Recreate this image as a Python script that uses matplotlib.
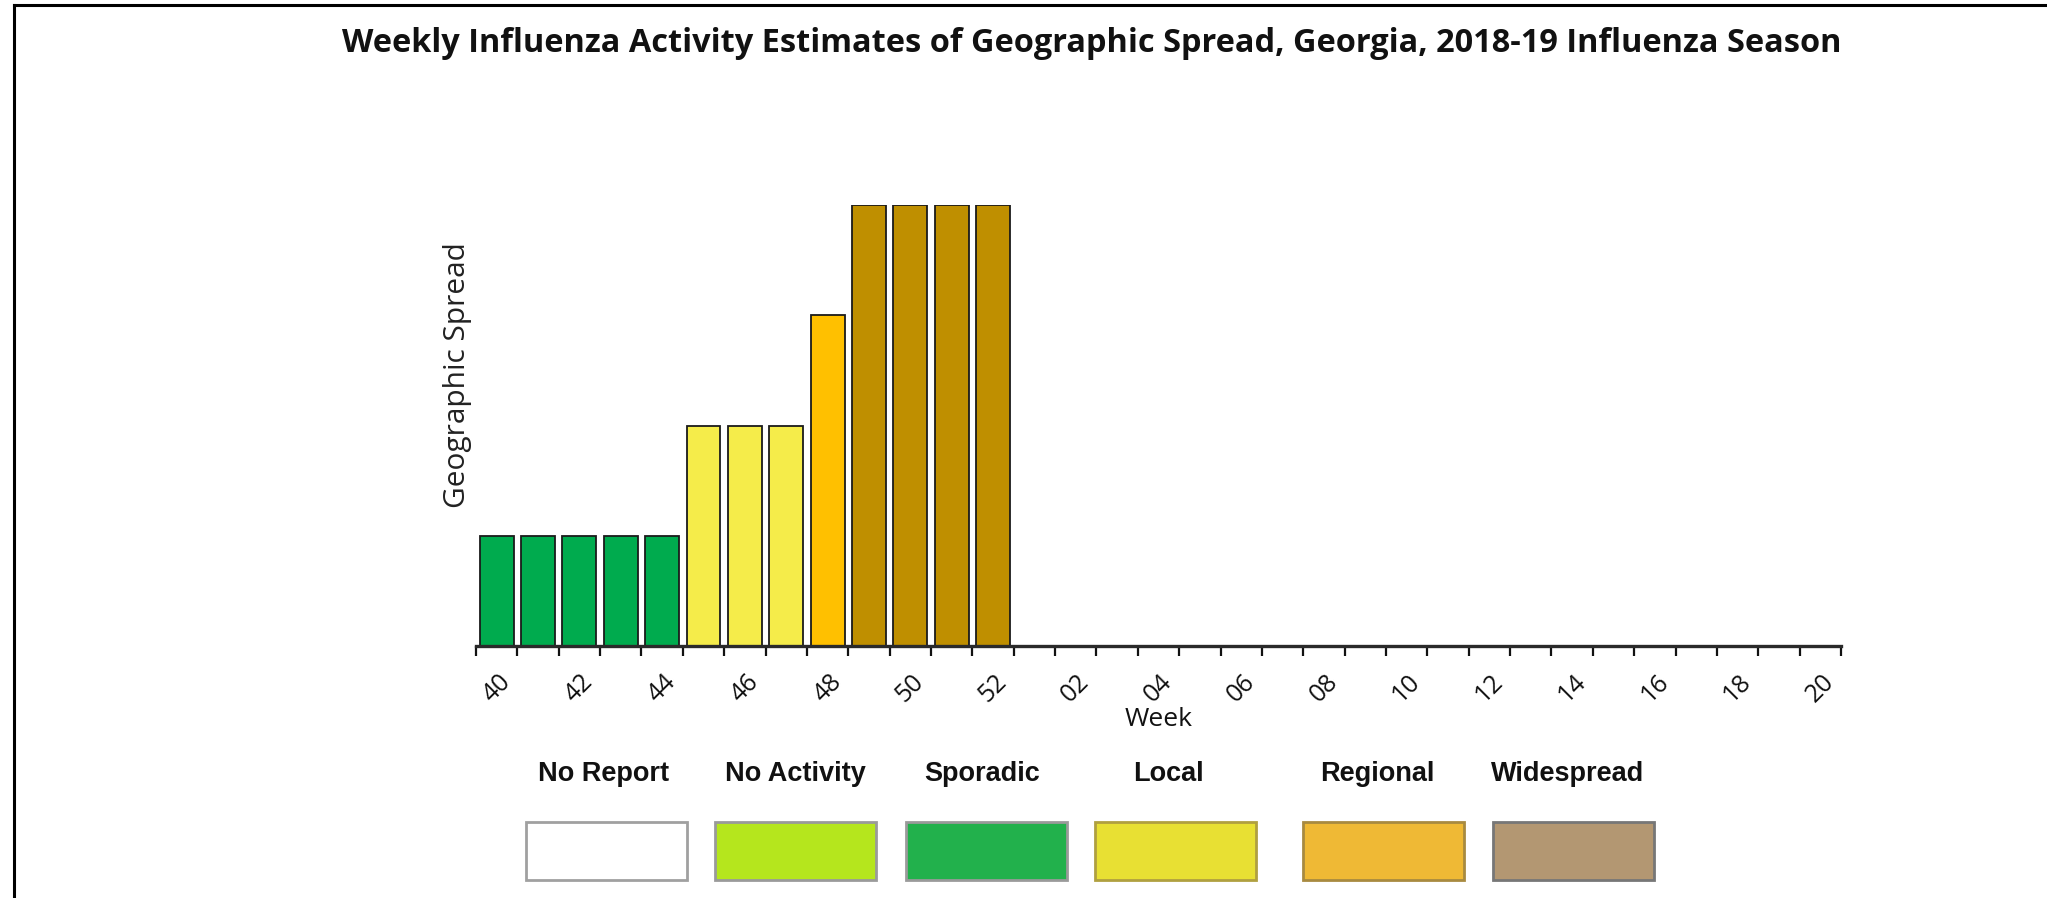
import matplotlib
matplotlib.use("Agg")
import matplotlib.pyplot as plt
from matplotlib.patches import Rectangle
from matplotlib.lines import Line2D

# ---------------- data ----------------
weeks = ["40", "41", "42", "43", "44", "45", "46", "47", "48", "49", "50", "51", "52",
         "01", "02", "03", "04", "05", "06", "07", "08", "09", "10", "11", "12",
         "13", "14", "15", "16", "17", "18", "19", "20"]
# activity level: 1 = Sporadic, 2 = Local, 3 = Regional, 4 = Widespread, 0 = no data yet
levels = [1, 1, 1, 1, 1, 2, 2, 2, 3, 4, 4, 4, 4,
          0, 0, 0, 0, 0, 0, 0, 0, 0, 0, 0, 0, 0, 0, 0, 0, 0, 0, 0, 0]
level_colors = {1: "#00AB4E", 2: "#F5EC4A", 3: "#FFC000", 4: "#BF8F00"}

legend_labels = ["No Report", "No Activity", "Sporadic", "Local", "Regional", "Widespread"]
legend_colors = ["#FFFFFF", "#B5E61D", "#22B14C", "#E8E033", "#EFB935", "#B39772"]
legend_edges = ["#A0A0A0", "#9A9A9A", "#9A9A9A", "#B0A040", "#A88A40", "#777777"]

title = "Weekly Influenza Activity Estimates of Geographic Spread, Georgia, 2018-19 Influenza Season"

# ---------------- figure ----------------
W, H = 2047, 898
fig = plt.figure(figsize=(W / 100, H / 100), dpi=100)
fig.patch.set_facecolor("white")

def fx(px):
    return px / W

def fy(py):
    return 1 - py / H

# axes: left 476, right 1841, baseline 646, top 205 (px)
ax = fig.add_axes([fx(476), fy(646), fx(1841) - fx(476), (646 - 205) / H])

x = list(range(len(weeks)))
bar_x = [i for i, v in zip(x, levels) if v > 0]
bar_h = [v for v in levels if v > 0]
bar_c = [level_colors[v] for v in levels if v > 0]
ax.bar(bar_x, bar_h, width=0.82, color=bar_c, edgecolor="#1a1a1a", linewidth=1.3, zorder=2)

ax.set_xlim(-0.5, len(weeks) - 0.5)
ax.set_ylim(0, 4)

for s in ["top", "right", "left"]:
    ax.spines[s].set_visible(False)
ax.spines["bottom"].set_linewidth(2.4)
ax.spines["bottom"].set_color("#2a2a2a")
ax.spines["bottom"].set_zorder(3)

ax.set_yticks([])
# major ticks at week boundaries
ax.set_xticks([i - 0.5 for i in range(len(weeks) + 1)])
ax.set_xticklabels([])
ax.tick_params(axis="x", which="major", length=7.5, width=1.6, color="#111111", direction="out")
# labels for every second week, centred under the bar
lab_pos = x[::2]
lab_txt = weeks[::2]
ax.set_xticks(lab_pos, minor=True)
ax.set_xticklabels(lab_txt, minor=True, rotation=45, ha="center",
                   fontsize=18, family="Open Sans", color="#111111")
ax.tick_params(axis="x", which="minor", length=0, pad=17)

ax.set_xlabel("Week", fontsize=19, family="Open Sans", color="#111111")
ax.xaxis.set_label_coords(0.5, (646 - 719) / 441)
ax.xaxis.label.set_va("center")

ax.set_ylabel("Geographic Spread", fontsize=21.5, family="Open Sans", color="#222222")
ax.yaxis.set_label_coords((457 - 476) / 1365, (646 - 375) / 441)
ax.yaxis.label.set_va("center")

# title
fig.text(fx(1092), fy(43), title, ha="center", va="center",
         fontsize=23.4, fontweight="bold", family="Open Sans", color="#111111")

# legend (labels above coloured boxes)
box_left = [526, 715, 906, 1095, 1303, 1493]
box_w = 161
box_top, box_bot = 822, 880
label_cx = [604, 795, 982, 1168, 1377, 1568]
for lbl, col, ec, bl, cx in zip(legend_labels, legend_colors, legend_edges, box_left, label_cx):
    fig.patches.append(Rectangle((fx(bl), fy(box_bot)), box_w / W, (box_bot - box_top) / H,
                                 transform=fig.transFigure, facecolor=col, edgecolor=ec,
                                 linewidth=2.0))
    fig.text(fx(cx), fy(774), lbl, ha="center", va="center", fontsize=19.5,
             fontweight="bold", family="Liberation Sans", color="#111111")

# frame lines (left and top)
fig.add_artist(Line2D([fx(14), fx(14)], [0, fy(5)], transform=fig.transFigure,
                      color="black", linewidth=2.2))
fig.add_artist(Line2D([fx(14), 1], [fy(5), fy(5)], transform=fig.transFigure,
                      color="black", linewidth=2.2))

fig.savefig("out.png", dpi=100, facecolor="white")
